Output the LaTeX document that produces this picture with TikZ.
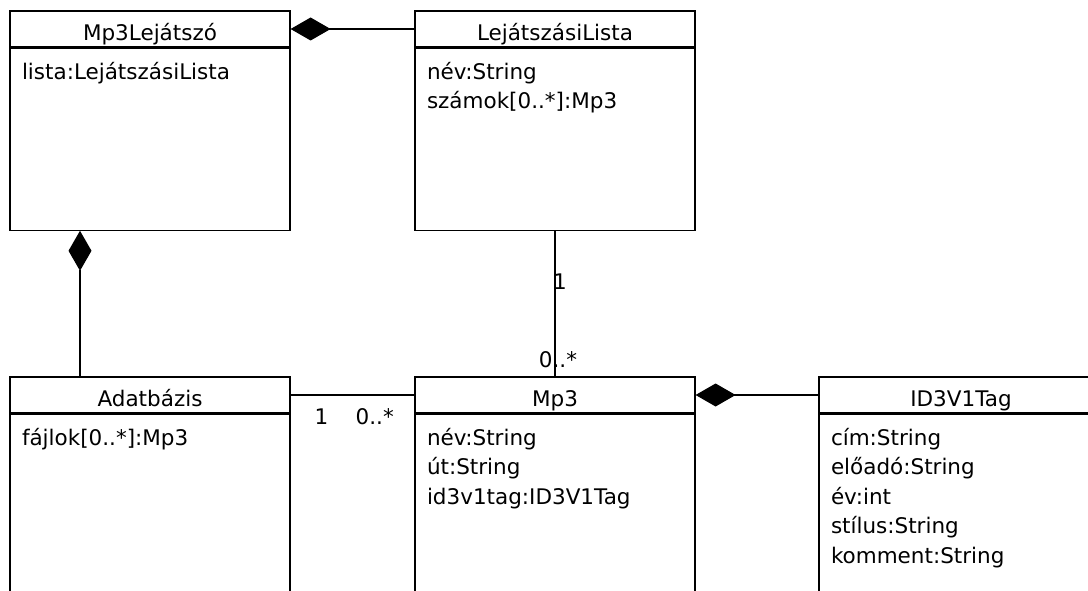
\documentclass[tikz,border=0pt]{standalone}
\usepackage{fontspec}
\setmainfont{DejaVu Sans}
\usetikzlibrary{arrows.meta, positioning}

\begin{document}
\begin{tikzpicture}[x=1pt, y=-1pt, line width=1.2pt,
    font=\fontsize{21.5}{26}\selectfont,
    titlebox/.style={draw, minimum width=280pt, minimum height=36pt,
      inner sep=0pt, text height=24pt, text depth=1pt},
    bodybox/.style={draw, minimum width=280pt, inner sep=0pt},
    attr/.style={anchor=base west, inner sep=0pt},
    mult/.style={inner sep=0pt},
    comp/.style={{Diamond[length=40pt, width=23pt]}-}]
  \useasboundingbox (0,0) rectangle (1088,591);
  \clip (0,0) rectangle (1088,591);
  % --- felso sor ---
  \node[titlebox] (playerT) at (150,29) {Mp3Lejátszó};
  \node[bodybox, minimum height=182pt, below=0pt of playerT] (player) {};
  \foreach \t [count=\i] in {{lista:LejátszásiLista}}
    \node[attr] (player-\i) at ([xshift=12pt, yshift={-31.5pt-(\i-1)*29.5pt}]player.north west) {\t};
  \node[titlebox] (listT) at (555,29) {LejátszásiLista};
  \node[bodybox, minimum height=182pt, below=0pt of listT] (list) {};
  \foreach \t [count=\i] in {{név:String}, {számok[0..*]:Mp3}}
    \node[attr] (list-\i) at ([xshift=12pt, yshift={-31.5pt-(\i-1)*29.5pt}]list.north west) {\t};
  % --- also sor ---
  \node[titlebox] (dbT) at (150,395) {Adatbázis};
  \node[bodybox, minimum height=250pt, below=0pt of dbT] (db) {};
  \foreach \t [count=\i] in {{fájlok[0..*]:Mp3}}
    \node[attr] (db-\i) at ([xshift=12pt, yshift={-31.5pt-(\i-1)*29.5pt}]db.north west) {\t};
  \node[titlebox] (mp3T) at (555,395) {Mp3};
  \node[bodybox, minimum height=250pt, below=0pt of mp3T] (mp3) {};
  \foreach \t [count=\i] in {{név:String}, {út:String}, {id3v1tag:ID3V1Tag}}
    \node[attr] (mp3-\i) at ([xshift=12pt, yshift={-31.5pt-(\i-1)*29.5pt}]mp3.north west) {\t};
  \node[titlebox, minimum width=284pt] (tagT) at (961,395) {ID3V1Tag};
  \node[bodybox, minimum width=284pt, minimum height=250pt, below=0pt of tagT] (tag) {};
  \foreach \t [count=\i] in {{cím:String}, {előadó:String}, {év:int}, {stílus:String}, {komment:String}}
    \node[attr] (tag-\i) at ([xshift=12pt, yshift={-31.5pt-(\i-1)*29.5pt}]tag.north west) {\t};
  % --- kapcsolatok ---
  \draw[comp] (playerT.east) -- (listT.west);
  \draw[comp] ([xshift=-70pt]player.south) -- ([xshift=-70pt]dbT.north);
  \draw (list.south) -- (mp3T.north)
    node[mult, pos=0.35, xshift=5pt] (m1) {1}
    node[mult, pos=1, anchor=south, yshift=8pt, xshift=3pt] (m2) {0..*};
  \draw (dbT.east) -- (mp3T.west)
    node[mult, pos=0.25, anchor=base, yshift=-29pt] (m3) {1}
    node[mult, pos=0.68, anchor=base, yshift=-29pt] (m4) {0..*};
  \draw[comp] (mp3T.east) -- (tagT.west);
\end{tikzpicture}
\end{document}
